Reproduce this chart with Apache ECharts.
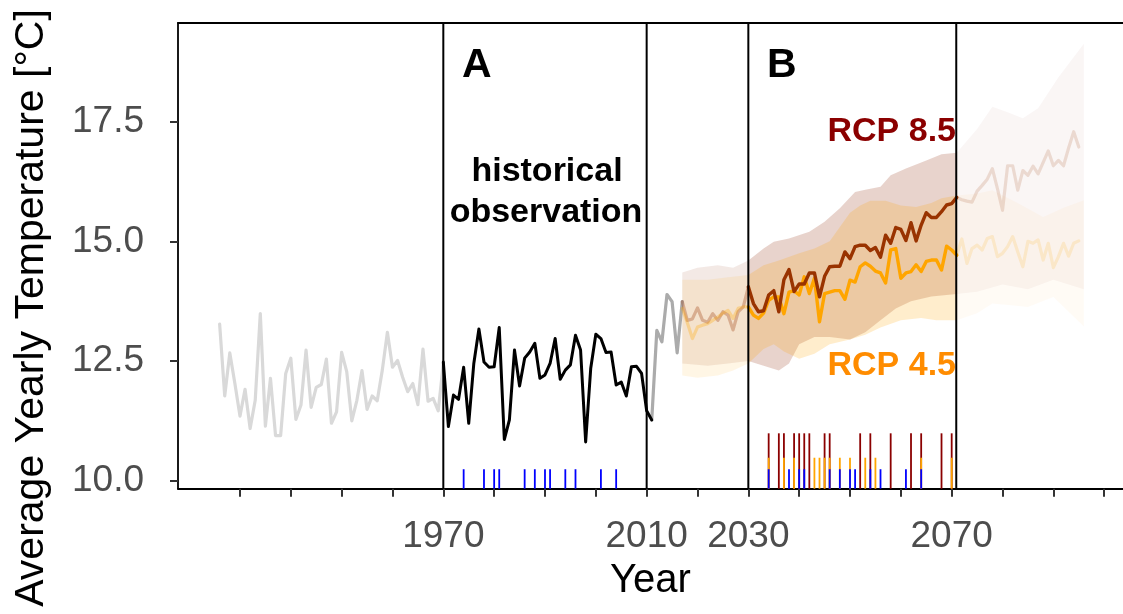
<!DOCTYPE html>
<html><head><meta charset="utf-8">
<script src="https://cdn.jsdelivr.net/npm/echarts@6/dist/echarts.min.js"></script>
<style>html,body{margin:0;padding:0;background:#fff}#c{width:1123px;height:614px}</style>
</head><body><div id="c"></div><script>
// ---------------- data ----------------
const tickYears = [1930,1940,1950,1960,1970,1980,1990,2000,2010,2020,2030,2040,2050,2060,2070,2080,2090,2100];
const labelYears = [1970,2010,2030,2070];
const tempTicks = [10,12.5,15,17.5];
const windowYears = [1970,2010,2030,2070.9];

const histEarlyStart = 1926;
const histEarly = [13.27,11.77,12.67,12.03,11.35,11.91,11.09,11.68,13.49,11.14,12.14,10.94,10.94,12.24,12.56,11.28,11.58,12.73,11.53,11.95,12.01,12.54,11.20,11.44,12.68,12.28,11.25,11.68,12.30,11.49,11.77,11.67,12.31,13.10,12.37,12.51,12.16,11.86,12.03,11.59,12.75,11.66,11.72,11.46,12.45];
const histObsStart = 1970;
const histObs = [12.48,11.13,11.79,11.70,12.37,11.20,12.45,13.17,12.48,12.37,12.38,13.20,10.86,11.27,12.73,11.98,12.56,12.69,12.87,12.14,12.21,12.45,12.97,12.12,12.31,12.42,13.04,12.73,10.81,12.35,13.06,12.97,12.68,12.69,12.00,12.06,11.77,12.38,12.39,12.24,11.46,11.27];
const histRecentStart = 2011;
const histRecent = [11.27,13.14,12.90,13.89,13.74,12.67,13.74];

const preStart = 2017, mainStart = 2030, postStart = 2071, bandEnd = 2096;
const rcp85Pre = [13.74,13.35,13.38,13.61,13.35,13.31,13.49,13.35,13.53,13.46,13.15,13.53,13.63,14.05];
const rcp45Pre = [13.60,13.30,12.97,13.21,13.25,13.28,13.35,13.42,13.50,13.56,13.39,13.60,13.63,13.63];
const rcp85Main = [14.05,13.70,13.53,13.55,13.88,13.97,13.53,14.20,14.41,13.95,14.11,14.11,14.34,14.34,13.84,14.27,14.47,14.48,14.48,14.78,14.64,14.89,14.92,14.92,14.81,14.87,14.67,15.13,14.96,15.29,15.25,15.02,15.39,15.01,15.34,15.60,15.50,15.50,15.62,15.76,15.79,15.92];
const rcp45Main = [13.63,13.46,13.39,13.50,13.77,13.84,13.84,13.49,13.94,13.97,13.88,14.26,13.91,14.23,13.32,13.91,13.94,13.97,13.97,13.79,14.19,14.15,14.47,14.55,14.48,14.38,14.34,14.13,14.82,14.85,14.23,14.34,14.37,14.51,14.37,14.58,14.61,14.61,14.40,14.90,14.82,14.71];
const rcp85Post = [15.92,15.87,15.84,15.82,16.05,16.17,16.30,16.52,16.10,15.65,16.58,16.58,16.07,16.48,16.38,16.57,16.41,16.65,16.89,16.58,16.69,16.58,16.95,17.29,16.97];
const rcp45Post = [14.71,15.05,14.54,14.85,14.92,14.82,15.06,15.10,14.68,14.75,14.89,15.10,14.78,14.47,15.00,14.96,15.03,14.61,14.96,14.45,14.68,14.96,14.69,14.96,15.01];

const rcp85Upper = [[2017,14.35],[2020,14.45],[2024,14.5],[2027,14.45],[2030,14.6],[2033,14.85],[2035,14.99],[2038,15.06],[2042,15.2],[2045,15.41],[2048,15.69],[2051,16.03],[2053,16.08],[2056,16.14],[2058,16.38],[2061,16.52],[2065,16.69],[2068,16.82],[2071,16.85],[2075,17.35],[2078,17.81],[2081,17.7],[2084,17.57],[2087,17.78],[2091,18.43],[2096,19.13]];
const rcp85Lower = [[2017,12.45],[2022,12.4],[2026,12.45],[2030,12.5],[2033,12.4],[2036,12.3],[2038,12.45],[2040,12.85],[2043,13.0],[2046,13.0],[2050,12.95],[2053,13.1],[2056,13.35],[2059,13.6],[2062,13.75],[2066,13.85],[2071,13.9],[2075,13.95],[2080,14.1],[2085,14.0],[2090,14.2],[2096,14.0]];
const rcp45Upper = [[2017,14.2],[2022,14.2],[2026,14.25],[2030,14.3],[2033,14.5],[2036,14.6],[2040,14.75],[2043,14.85],[2046,15.0],[2048,15.3],[2050,15.6],[2052,15.75],[2054,15.85],[2057,15.85],[2060,15.75],[2063,15.72],[2066,15.8],[2068,15.9],[2071,15.96],[2075,16.0],[2078,16.07],[2083,15.8],[2088,15.51],[2092,15.7],[2096,15.86]];
const rcp45Lower = [[2017,12.2],[2020,12.15],[2024,12.2],[2027,12.3],[2030,12.45],[2033,12.75],[2035,12.85],[2037,12.7],[2040,12.55],[2043,12.65],[2046,12.85],[2050,12.95],[2053,13.05],[2056,13.2],[2060,13.35],[2064,13.4],[2067,13.35],[2071,13.35],[2075,13.5],[2078,13.7],[2085,13.63],[2090,13.84],[2096,13.22]];

const rugObsYears = [1974,1978,1980,1981,1986,1988,1990,1991,1994,1996,2001,2004];
const rugRedYears = [2034,2036,2037,2039,2040,2041,2042,2045,2046,2052,2054,2058,2062,2064,2068,2070];
const rugOrangeYears = [2034,2037,2039,2043,2044,2045,2046,2048,2050,2053,2055,2064,2070];
const rugBlueYears = [2034,2038,2040,2041,2046,2048,2050,2051,2054,2056,2061,2064];
const rugTops = {red:10.99, orange:10.48, blue:10.24};

// ---------------- scales ----------------
const X_MIN = 1917.81, X_MAX = 2103.7;
const Y_MIN = 9.833, Y_MAX = 19.562;
const FONT = "'Liberation Sans', Arial, Helvetica, sans-serif";

const pairs = (start, vals) => vals.map((v, i) => [start + i, v]);

function lineS(data, color, width, z) {
  return {type:'line', data, showSymbol:false, symbol:'none', silent:true, z,
    lineStyle:{color, width, cap:'round', join:'round'}, emphasis:{disabled:true}, animation:false};
}
function band(up, lo, x0, x1, fill, z) {
  const U = up.filter(p => p[0] >= x0 && p[0] <= x1);
  const L = lo.filter(p => p[0] >= x0 && p[0] <= x1).reverse();
  return {type:'custom', silent:true, z, animation:false, data:[U[0]],
    renderItem(params, api) {
      const pts = U.concat(L).map(p => api.coord(p));
      return {type:'polygon', shape:{points:pts}, style:{fill}};
    }};
}
function rug(years, top, color, z) {
  return {type:'custom', silent:true, z, animation:false, data: years.map(y => [y, top]),
    renderItem(params, api) {
      const a = api.coord([api.value(0), Y_MIN]);
      const b = api.coord([api.value(0), api.value(1)]);
      return {type:'line', shape:{x1:a[0], y1:a[1], x2:b[0], y2:b[1]}, style:{stroke:color, lineWidth:1.8}};
    }};
}
function vlines(years) {
  return {type:'custom', silent:true, z:20, animation:false, data: years.map(y => [y, Y_MIN]),
    renderItem(params, api) {
      const a = api.coord([api.value(0), Y_MIN]);
      const b = api.coord([api.value(0), Y_MAX]);
      return {type:'line', shape:{x1:a[0], y1:a[1], x2:b[0], y2:b[1]}, style:{stroke:'#000', lineWidth:2}};
    }};
}

const BR = '139,37,0', OR = '255,165,0';
const series = [
  band(rcp85Upper, rcp85Lower, preStart, mainStart, `rgba(${BR},0.10)`, 1),
  band(rcp45Upper, rcp45Lower, preStart, mainStart, `rgba(${OR},0.10)`, 1),
  band(rcp85Upper, rcp85Lower, mainStart, postStart, `rgba(${BR},0.20)`, 1),
  band(rcp45Upper, rcp45Lower, mainStart, postStart, `rgba(${OR},0.20)`, 1),
  band(rcp85Upper, rcp85Lower, postStart, bandEnd, `rgba(${BR},0.04)`, 1),
  band(rcp45Upper, rcp45Lower, postStart, bandEnd, `rgba(${OR},0.04)`, 1),
  lineS(pairs(histEarlyStart, histEarly), '#d9d9d9', 3.2, 5),
  lineS(pairs(histObsStart, histObs), '#000000', 3, 6),
  lineS(pairs(histRecentStart, histRecent), '#ababab', 3.2, 5),
  lineS(pairs(preStart, rcp85Pre), 'rgba(153,51,0,0.30)', 3.2, 5),
  lineS(pairs(preStart, rcp45Pre), 'rgba(255,165,0,0.30)', 3.2, 5),
  lineS(pairs(mainStart, rcp45Main), '#ffa500', 3.4, 6),
  lineS(pairs(mainStart, rcp85Main), '#993300', 3.4, 7),
  lineS(pairs(postStart, rcp85Post), 'rgba(153,51,0,0.15)', 3.2, 5),
  lineS(pairs(postStart, rcp45Post), 'rgba(255,165,0,0.15)', 3.2, 5),
  rug(rugObsYears, rugTops.blue, '#0000ff', 8),
  rug(rugRedYears, rugTops.red, '#8b0000', 8),
  rug(rugOrangeYears, rugTops.orange, '#ffa500', 9),
  rug(rugBlueYears, rugTops.blue, '#0000ff', 10),
  vlines(windowYears)
];

const axisLineStyle = {color:'#000', width:1.8};
const chart = echarts.init(document.getElementById('c'), null, {renderer:'canvas'});
chart.setOption({
  animation:false,
  backgroundColor:'#fff',
  grid:{left:178, top:23, right:-5, bottom:125.3, containLabel:false},
  xAxis:[{
    type:'value', min:X_MIN, max:X_MAX, position:'bottom',
    axisLine:{show:true, onZero:false, lineStyle:axisLineStyle},
    splitLine:{show:false},
    axisTick:{show:true, length:8, lineStyle:{color:'#333', width:2}, customValues:tickYears},
    axisLabel:{customValues:labelYears, color:'#4d4d4d', fontSize:37, fontFamily:FONT, margin:30, formatter:v => String(v)},
    name:'Year', nameLocation:'middle', nameGap:70,
    nameTextStyle:{fontSize:40, color:'#000', fontFamily:FONT}
  },{
    type:'value', min:X_MIN, max:X_MAX, position:'top',
    axisLine:{show:true, onZero:false, lineStyle:axisLineStyle},
    axisTick:{show:false}, axisLabel:{show:false}, splitLine:{show:false}
  }],
  yAxis:{
    type:'value', min:Y_MIN, max:Y_MAX,
    axisLine:{show:true, onZero:false, lineStyle:axisLineStyle},
    splitLine:{show:false},
    axisTick:{show:true, length:8, lineStyle:{color:'#333', width:2}, customValues:tempTicks},
    axisLabel:{customValues:tempTicks, color:'#4d4d4d', fontSize:37, fontFamily:FONT, margin:34, formatter:v => v.toFixed(1)}
  },
  graphic:[
    {type:'text', x:32, y:308, rotation:Math.PI/2, z:100,
      style:{text:'Average Yearly Temperature [°C]', x:0, y:0, align:'center', verticalAlign:'middle', fill:'#000', font:`41px ${FONT}`}},
    {type:'text', x:462, y:66, z:100, style:{text:'A', align:'left', verticalAlign:'middle', fill:'#000', font:`bold 41px ${FONT}`}},
    {type:'text', x:767, y:66, z:100, style:{text:'B', align:'left', verticalAlign:'middle', fill:'#000', font:`bold 41px ${FONT}`}},
    {type:'text', x:547, y:172, z:100, style:{text:'historical', align:'center', verticalAlign:'middle', fill:'#000', font:`bold 34px ${FONT}`}},
    {type:'text', x:546, y:213, z:100, style:{text:'observation', align:'center', verticalAlign:'middle', fill:'#000', font:`bold 34px ${FONT}`}},
    {type:'text', x:956, y:132, z:100, style:{text:'RCP 8.5', align:'right', verticalAlign:'middle', fill:'#8b0000', font:`bold 34px ${FONT}`}},
    {type:'text', x:956, y:366, z:100, style:{text:'RCP 4.5', align:'right', verticalAlign:'middle', fill:'#ff8c00', font:`bold 34px ${FONT}`}}
  ],
  series
});
</script></body></html>
